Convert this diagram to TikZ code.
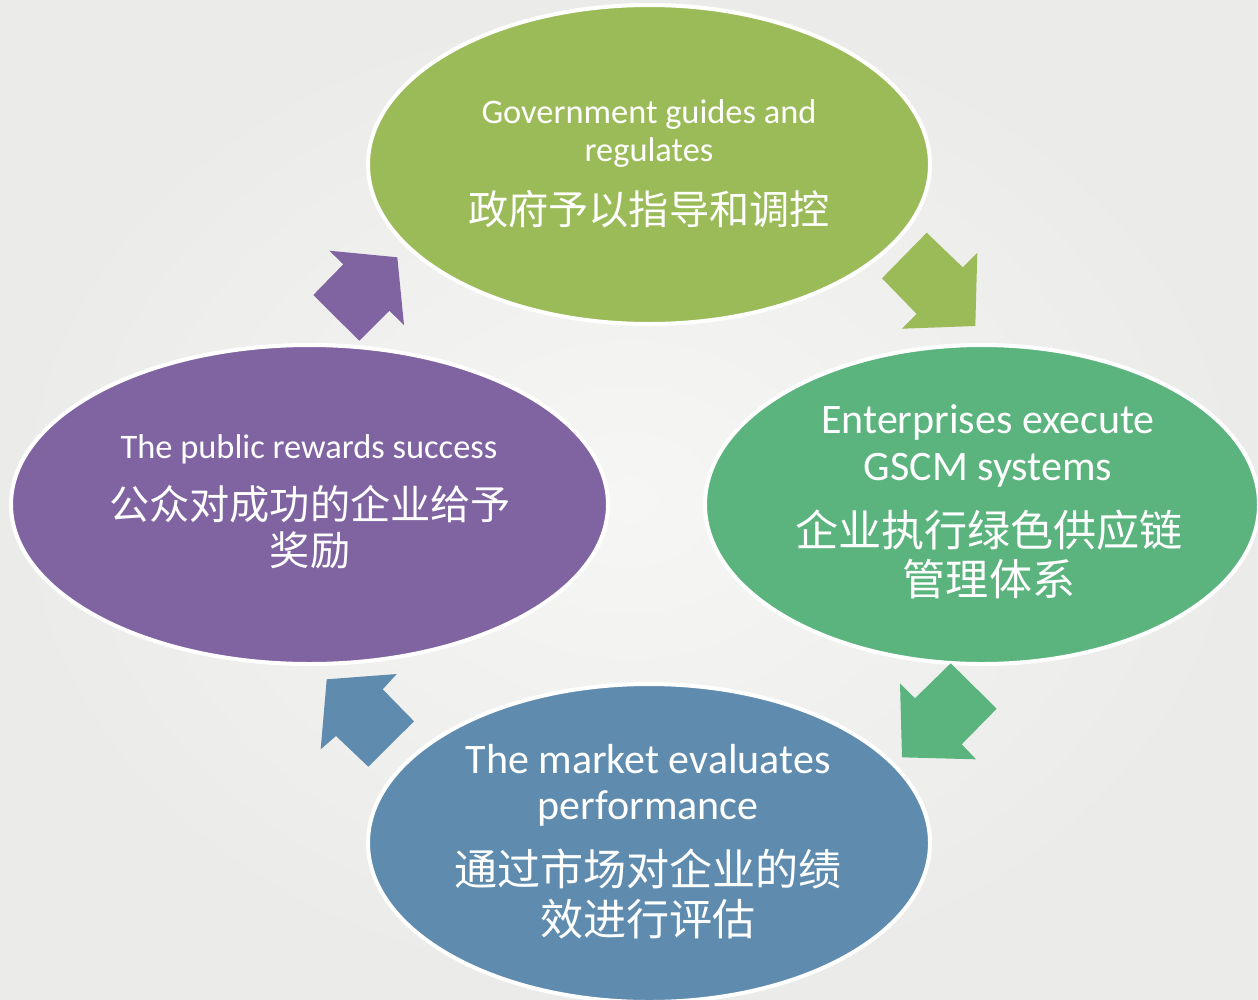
\documentclass[tikz,border=0pt]{standalone}
\usepackage{fontspec}
\setmainfont{Carlito}
\newfontfamily\cjk{Noto Sans CJK SC}
\usetikzlibrary{shapes.geometric}
\definecolor{cgov}{HTML}{9BBB59}
\definecolor{cent}{HTML}{5BB37D}
\definecolor{cmkt}{HTML}{5F8CAE}
\definecolor{cpub}{HTML}{8064A2}
\definecolor{bgin}{HTML}{F6F6F5}
\definecolor{bgout}{HTML}{EBEBEA}
\begin{document}
\begin{tikzpicture}[x=1pt,y=-1pt,
  oval/.style={ellipse, draw=white, line width=4pt, inner sep=0pt, outer sep=0pt},
  entxt/.style={anchor=base, text=white, inner sep=0pt, font=\fontsize{34.4}{40}\selectfont},
  bigen/.style={anchor=base, text=white, inner sep=0pt, font=\fontsize{42}{48}\selectfont},
  zhtxt/.style={anchor=base, text=white, inner sep=0pt, font=\cjk\fontsize{40.2}{48}\selectfont},
  bigzh/.style={anchor=base, text=white, inner sep=0pt, font=\cjk\fontsize{43.1}{50}\selectfont}]
\shade[inner color=bgin, outer color=bgout] (0,0) rectangle (1258,999);
\useasboundingbox (0,0) rectangle (1258,999);
% ellipses
\node[oval, fill=cgov, minimum width=562pt, minimum height=319pt] (gov) at (649,164.5) {};
\node[oval, fill=cent, minimum width=554pt, minimum height=319pt] (ent) at (982,504.5) {};
\node[oval, fill=cpub, minimum width=597pt, minimum height=319pt] (pub) at (309.5,504.5) {};
\node[oval, fill=cmkt, minimum width=562pt, minimum height=318pt] (mkt) at (649,843) {};
% block arrows
\fill[cpub] (329.3,250.7) -- (343.3,264.3) -- (313.3,295) -- (359.3,340.7) -- (389.3,310.7) -- (404,325) -- (397.3,257.3) -- cycle;
\fill[cgov] (926.7,232.7) -- (962.7,267.3) -- (977.3,252.7) -- (975.3,326) -- (902,328.7) -- (916.7,314) -- (882,278.3) -- cycle;
\fill[cent] (950.7,663.3) -- (996.7,708.7) -- (961.7,744.3) -- (976,759.3) -- (902,757.3) -- (900,683.3) -- (915,698.3) -- cycle;
\fill[cmkt] (326.7,679.3) -- (396.7,674) -- (382.7,689.3) -- (414,721.3) -- (368.3,766.7) -- (336,736) -- (320.7,749.3) -- cycle;
% texts: government
\node[entxt] (g1) at (649,123) {Government guides and};
\node[entxt] (g2) at (649,161) {regulates};
\node[zhtxt] (g3) at (649,224) {政府予以指导和调控};
% enterprises
\node[bigen] (e1) at (988,433) {Enterprises execute};
\node[bigen] (e2) at (988,480) {GSCM systems};
\node[bigzh] (e3) at (989,546) {企业执行绿色供应链};
\node[bigzh] (e4) at (989,595) {管理体系};
% market
\node[bigen] (m1) at (648,773) {The market evaluates};
\node[bigen] (m2) at (648,819) {performance};
\node[bigzh] (m3) at (648,885) {通过市场对企业的绩};
\node[bigzh] (m4) at (648,935) {效进行评估};
% public
\node[entxt] (p1) at (309,458) {The public rewards success};
\node[zhtxt] (p2) at (310,519) {公众对成功的企业给予};
\node[zhtxt] (p3) at (310,565) {奖励};
\end{tikzpicture}
\end{document}
